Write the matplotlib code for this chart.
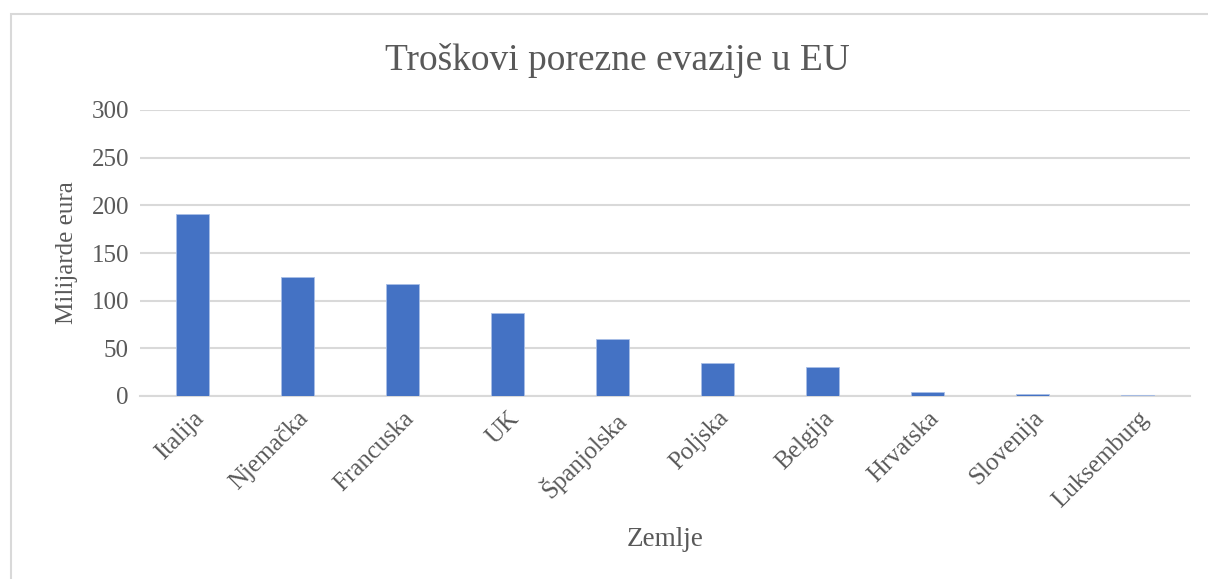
import matplotlib.pyplot as plt
from matplotlib.patches import Rectangle

plt.rcParams["font.family"] = ["Liberation Serif", "DejaVu Serif"]

countries = ["Italija", "Njemačka", "Francuska", "UK", "Španjolska",
             "Poljska", "Belgija", "Hrvatska", "Slovenija", "Luksemburg"]
values = [190.5, 124.5, 118, 87.5, 60, 34.5, 30.5, 3.8, 2, 1.5]
yticks = [0, 50, 100, 150, 200, 250, 300]

text_color = "#595959"
bar_color = "#4472C4"
grid_color = "#D9D9D9"

fig = plt.figure(figsize=(12.08, 5.79), dpi=100)
ax = fig.add_axes([140 / 1208, 1 - 396 / 579, 1050 / 1208, 286 / 579])

# outer chart border (cropped on right and bottom)
fig.patches.append(Rectangle((11 / 1208, -0.1), 1.2, 1 - 14 / 579 + 0.1,
                             transform=fig.transFigure, fill=False,
                             edgecolor=grid_color, linewidth=1.5))

ax.bar(range(len(countries)), values, width=0.32, color=bar_color,
       edgecolor="#A9BFE6", linewidth=0.6, zorder=3)

ax.set_xlim(-0.5, len(countries) - 0.5)
ax.set_ylim(0, 300)
ax.set_yticks(yticks)
ax.yaxis.grid(True, color=grid_color, linewidth=1.5, zorder=0)
ax.set_axisbelow(True)

for s in ["top", "right", "left"]:
    ax.spines[s].set_visible(False)
ax.spines["bottom"].set_color(grid_color)
ax.spines["bottom"].set_linewidth(1.5)

ax.tick_params(axis="both", length=0, labelsize=18, colors=text_color, pad=8)
ax.set_xticks(range(len(countries)))
ax.set_xticklabels(countries, rotation=45, ha="right", rotation_mode="anchor")

ax.set_ylabel("Milijarde eura", fontsize=18, color=text_color, labelpad=10)
fig.text(665 / 1208, 1 - 540 / 579, "Zemlje", fontsize=19.5, color=text_color,
         ha="center", va="center")
fig.text(0.511, 1 - 60 / 579, "Troškovi porezne evazije u EU", fontsize=27,
         color=text_color, ha="center", va="center")

fig.savefig("out.png", dpi=100)
